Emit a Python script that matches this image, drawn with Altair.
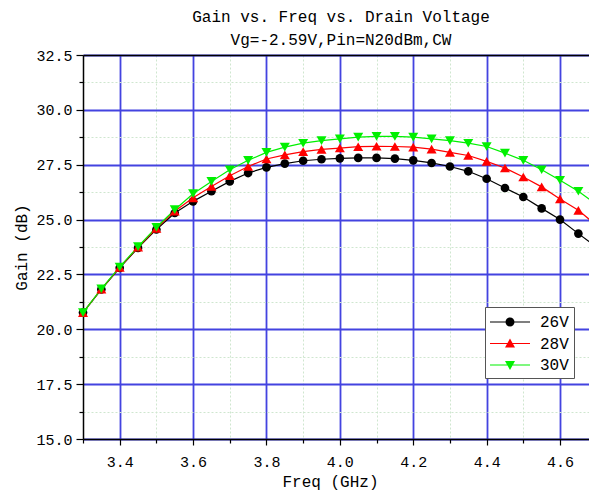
import altair as alt
import pandas as pd

# ---- data ----
freq = [3.30, 3.35, 3.40, 3.45, 3.50, 3.55, 3.60, 3.65, 3.70, 3.75, 3.80, 3.85, 3.90, 3.95,
        4.00, 4.05, 4.10, 4.15, 4.20, 4.25, 4.30, 4.35, 4.40, 4.45, 4.50, 4.55, 4.60, 4.65, 4.70]
gain_26v = [20.76, 21.82, 22.80, 23.71, 24.55, 25.30, 25.83, 26.29, 26.74, 27.12, 27.38, 27.55, 27.68, 27.75,
            27.79, 27.81, 27.81, 27.78, 27.70, 27.58, 27.42, 27.20, 26.86, 26.44, 26.03, 25.51, 25.00, 24.36, 23.74]
gain_28v = [20.76, 21.83, 22.82, 23.74, 24.60, 25.38, 25.99, 26.51, 27.00, 27.42, 27.76, 27.95, 28.10, 28.20,
            28.26, 28.32, 28.34, 28.33, 28.30, 28.21, 28.06, 27.92, 27.65, 27.35, 26.94, 26.49, 25.94, 25.42, 24.73]
gain_30v = [20.76, 21.84, 22.84, 23.77, 24.65, 25.45, 26.18, 26.74, 27.27, 27.70, 28.06, 28.30, 28.48, 28.60,
            28.68, 28.76, 28.79, 28.79, 28.76, 28.68, 28.60, 28.48, 28.33, 28.03, 27.70, 27.27, 26.79, 26.29, 25.68]

series_names = ["26V", "28V", "30V"]
series_colors = ["#000000", "#ff0000", "#00f000"]
point_shapes = ["circle", "triangle-up", "triangle-down"]
point_sizes = [75, 100, 100]

x_ticks = [3.3, 3.4, 3.5, 3.6, 3.7, 3.8, 3.9, 4.0, 4.1, 4.2, 4.3, 4.4, 4.5, 4.6, 4.7]
y_ticks = [15.0, 16.25, 17.5, 18.75, 20.0, 21.25, 22.5, 23.75, 25.0, 26.25, 27.5, 28.75, 30.0, 31.25, 32.5]

title_lines = ["Gain vs. Freq vs. Drain Voltage", "Vg=-2.59V,Pin=N20dBm,CW"]

# legend symbols: line segment + marker, as custom SVG paths
legend_paths = [
    "M-2,-0.06H-0.3V0.06H-2Z M0.3,-0.06H2V0.06H0.3Z M0.45,0A0.45,0.45 0 1,1 -0.45,0A0.45,0.45 0 1,1 0.45,0Z",
    "M-2,-0.06H-0.2V0.06H-2Z M0.2,-0.06H2V0.06H0.2Z M0,-0.5L0.5,0.4L-0.5,0.4Z",
    "M-2,-0.06H-0.2V0.06H-2Z M0.2,-0.06H2V0.06H0.2Z M0,0.5L-0.5,-0.4L0.5,-0.4Z",
]

rows = []
for name, vals in zip(series_names, [gain_26v, gain_28v, gain_30v]):
    for f, g in zip(freq, vals):
        rows.append({"freq": f, "gain": g, "series": name})
df = pd.DataFrame(rows)

FONT = "Liberation Mono"
MAJOR_BLUE = "#4343e0"
MINOR_GREEN = "#cfe6cf"

x_major = "abs(round(datum.value*10) % 2) < 0.5"
y_major = "abs(datum.value/2.5 - round(datum.value/2.5)) < 0.001"

x_scale = alt.Scale(domain=[3.3, 4.679], nice=False, zero=False)
y_scale = alt.Scale(domain=[15, 32.5], nice=False, zero=False)

x_axis_bottom = alt.Axis(
    orient="bottom", values=x_ticks, title="Freq (GHz)",
    labelExpr=f"({x_major}) ? format(datum.value, '.1f') : ''",
    labelFont=FONT, labelFontSize=15, labelColor="black", labelPadding=9,
    labelOverlap=False, labelFlush=False,
    titleFont=FONT, titleFontSize=16, titleFontWeight="normal", titleColor="black",
    titleX=247, titleY=42, titleBaseline="middle",
    domainColor="black", domainWidth=1.5,
    tickColor="black", tickWidth=1.2,
    tickSize={"condition": {"test": x_major, "value": 6}, "value": 4},
    grid=True,
    gridColor={"condition": {"test": x_major, "value": MAJOR_BLUE}, "value": MINOR_GREEN},
    gridWidth={"condition": {"test": x_major, "value": 1.8}, "value": 1},
    gridDash={"condition": {"test": x_major, "value": []}, "value": [2, 2]},
)
y_axis_left = alt.Axis(
    orient="left", values=y_ticks, title="Gain (dB)",
    labelExpr=f"({y_major}) ? format(datum.value, '.1f') : ''",
    labelFont=FONT, labelFontSize=15, labelColor="black", labelPadding=4,
    labelOverlap=False, labelFlush=False,
    titleFont=FONT, titleFontSize=16, titleFontWeight="normal", titleColor="black",
    titleX=-62, titleY=192, titleAngle=-90, titleBaseline="middle", titleAlign="center",
    domainColor="black", domainWidth=1.5,
    tickColor="black", tickWidth=1.2,
    tickSize={"condition": {"test": y_major, "value": 7}, "value": 4},
    grid=True,
    gridColor={"condition": {"test": y_major, "value": MAJOR_BLUE}, "value": MINOR_GREEN},
    gridWidth={"condition": {"test": y_major, "value": 1.8}, "value": 1},
    gridDash={"condition": {"test": y_major, "value": []}, "value": [2, 2]},
)
x_axis_top = alt.Axis(orient="top", labels=False, ticks=False, grid=False, title=None,
                      domainColor="black", domainWidth=1.5)

base = alt.Chart(df)
layers = []

# lines
for i, (name, col) in enumerate(zip(series_names, series_colors)):
    layers.append(
        base.transform_filter(alt.datum.series == name)
        .mark_line(color=col, strokeWidth=1.2)
        .encode(
            x=alt.X("freq:Q", scale=x_scale, axis=x_axis_bottom if i == 0 else None),
            y=alt.Y("gain:Q", scale=y_scale, axis=y_axis_left if i == 0 else None),
        )
    )
# markers
for i, (name, col, shp, sz) in enumerate(zip(series_names, series_colors, point_shapes, point_sizes)):
    layers.append(
        base.transform_filter(alt.datum.series == name)
        .mark_point(shape=shp, filled=True, color=col, size=sz, opacity=1)
        .encode(
            x=alt.X("freq:Q", scale=x_scale, axis=x_axis_top if i == 0 else None),
            y=alt.Y("gain:Q", scale=y_scale, axis=None),
        )
    )
# invisible carrier for the legend
legend_layer = base.mark_point(filled=True, opacity=0).encode(
    x=alt.X("freq:Q", scale=x_scale, axis=None),
    y=alt.Y("gain:Q", scale=y_scale, axis=None),
    color=alt.Color("series:N", scale=alt.Scale(domain=series_names, range=series_colors),
                    legend=alt.Legend(title=None)),
    shape=alt.Shape("series:N", scale=alt.Scale(domain=series_names, range=legend_paths),
                    legend=alt.Legend(title=None)),
)
layers.append(legend_layer)

chart = (
    alt.layer(*layers)
    .resolve_axis(x="independent", y="independent")
    .properties(
        width=506, height=384,
        autosize=alt.AutoSizeParams(type="none"),
        padding={"left": 75, "top": 47, "right": 0, "bottom": 53},
        title=alt.TitleParams(text=title_lines, anchor="middle", font=FONT, fontSize=16,
                              fontWeight="normal", color="black", lineHeight=23, offset=0, dx=5),
    )
    .configure_view(stroke="transparent")
    .configure_legend(
        orient="none", legendX=402, legendY=252,
        fillColor="white", strokeColor="#555555", strokeWidth=1, cornerRadius=0,
        padding=5, symbolSize=400, symbolOffset=10, labelOffset=20,
        symbolOpacity=1, symbolStrokeWidth=0,
        labelFont=FONT, labelFontSize=16, labelColor="black", rowPadding=3.5,
    )
)

chart.save("out.html", embed_options={"renderer": "svg", "actions": False})
